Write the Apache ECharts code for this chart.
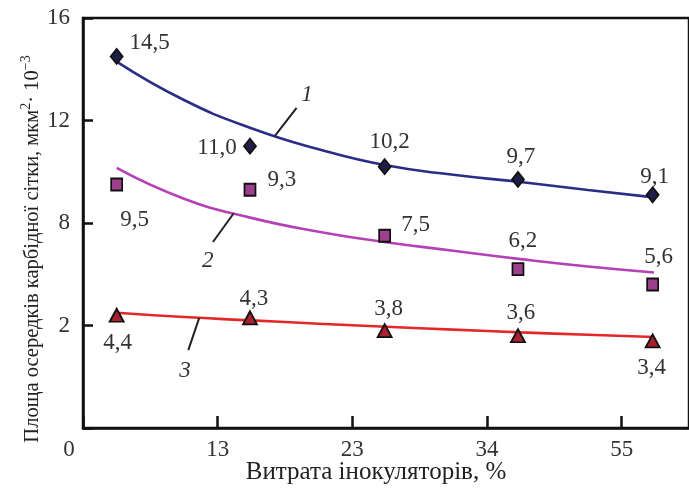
<!DOCTYPE html>
<html>
<head>
<meta charset="utf-8">
<script src="https://cdn.jsdelivr.net/npm/echarts@6/dist/echarts.min.js"></script>
<style>
  html, body { margin: 0; padding: 0; background: #fff; }
  #chart { width: 689px; height: 497px; }
</style>
</head>
<body>
<div id="chart"></div>
<script>
// Axis tick labels (x ticks sit at slots 0..4, y ticks every 4 units)
const xTickLabels = ['0', '13', '23', '34', '55'];
const yTickLabels = ['', '2', '8', '12', '16'];

// Measured points: slot position on the x axis and values for curves 1-3
const pointSlots = [0.25, 1.24, 2.24, 3.23, 4.23];
const series1 = [14.5, 11.0, 10.2, 9.7, 9.1];
const series2 = [9.5, 9.3, 7.5, 6.2, 5.6];
const series3 = [4.4, 4.3, 3.8, 3.6, 3.4];

// Fitted trend curves, sampled along the x axis
const curveSlots = [0.25, 0.75, 1.25, 1.75, 2.25, 2.75, 3.25, 3.75, 4.24];
const fit1 = [14.3, 12.8, 11.7, 10.88, 10.25, 9.88, 9.6, 9.29, 9.0];
const fit2 = [10.15, 8.95, 8.2, 7.66, 7.25, 6.92, 6.59, 6.3, 6.07];
const fit3 = [4.5, 4.33, 4.2, 4.07, 3.95, 3.84, 3.73, 3.64, 3.55];

// Curve numbers and their leader lines (start on the curve, end at the number)
const curveNames = ['1', '2', '3'];
const leaders = [
  [[1.425, 11.4], [1.586, 12.49]],
  [[1.118, 8.37], [0.965, 7.26]],
  [[0.863, 4.3], [0.782, 3.04]]
];
const leaderGaps = [17, 9, 10];

// Label offsets (px) of each value label relative to its marker
const labelOffsets1 = [[33, -13], [-33, 2], [5, -25], [3, -22], [2, -18]];
const labelOffsets2 = [[18, 35], [32, -10], [31, -11], [5, -28], [6, -28]];
const labelOffsets3 = [[1, 28], [4, -19], [4, -22], [3, -23], [-1, 27]];

const FONT = 'Liberation Serif';
const TXT = '#333';

function zip(xs, ys) { return xs.map((x, i) => [x, ys[i]]); }

function pointData(values, offsets) {
  return values.map((v, i) => ({
    value: [pointSlots[i], v],
    label: { offset: offsets[i] }
  }));
}

function fmtComma(p) { return p.value[1].toFixed(1).replace('.', ','); }

function curveSeries(data, color) {
  return {
    type: 'line', data: zip(curveSlots, data),
    smooth: 0.5,
    showSymbol: false, silent: true,
    lineStyle: { color: color, width: 2.6 }, z: 2
  };
}

function markerSeries(values, offsets, symbol, size, fill, idx) {
  return {
    type: 'scatter', data: pointData(values, offsets),
    symbol: symbol, symbolSize: size,
    itemStyle: { color: fill, borderColor: '#111', borderWidth: 1.8, opacity: 1 },
    label: {
      show: true, position: 'inside', formatter: fmtComma,
      fontFamily: FONT, fontSize: 23, color: TXT
    },
    markLine: {
      silent: true, symbol: ['none', 'none'], animation: false,
      lineStyle: { color: '#222', width: 2, type: 'solid' },
      label: {
        show: true, position: 'end', distance: leaderGaps[idx], formatter: curveNames[idx],
        fontFamily: FONT, fontStyle: 'italic', fontSize: 23, color: TXT
      },
      data: [[{ coord: leaders[idx][0] }, { coord: leaders[idx][1] }]]
    },
    z: 5
  };
}

const chart = echarts.init(document.getElementById('chart'), null, { renderer: 'canvas' });

chart.setOption({
  animation: false,
  backgroundColor: '#fff',
  grid: {
    left: 83, width: 616, top: 18, bottom: 69, containLabel: false,
    show: true, borderColor: '#111', borderWidth: 2.5
  },
  xAxis: {
    type: 'value', min: 0, max: 4.5, interval: 1,
    name: 'Витрата інокуляторів, %',
    nameLocation: 'middle', nameGap: 32, nameMoveOverlap: false,
    nameTextStyle: { fontFamily: FONT, fontSize: 25, color: '#222', padding: [0, 20, 0, 0] },
    axisLine: { show: true, onZero: false, lineStyle: { color: '#111', width: 2.5 } },
    axisTick: { show: true, inside: true, length: 12, lineStyle: { color: '#111', width: 2.5 } },
    axisLabel: {
      margin: 10, showMaxLabel: false,
      fontFamily: FONT, fontSize: 23, color: TXT,
      formatter: v => {
        const t = xTickLabels[Math.round(v)] ?? '';
        return Math.round(v) === 0 ? '{o|' + t + '}' : t;
      },
      rich: { o: { fontFamily: FONT, fontSize: 23, color: TXT, padding: [0, 28, 0, 0] } }
    },
    splitLine: { show: false }
  },
  yAxis: {
    type: 'value', min: 0, max: 16, interval: 4,
    name: '{a|Площа осередків карбідної сітки, мкм}{s|2}{a|· 10}{s|−3}',
    nameLocation: 'middle', nameGap: 40, nameRotate: 90, nameMoveOverlap: false,
    nameTextStyle: {
      padding: [0, 52, 0, 0],
      rich: {
        a: { fontFamily: FONT, fontSize: 20.5, color: '#222', lineHeight: 24, verticalAlign: 'bottom' },
        s: { fontFamily: FONT, fontSize: 14, color: '#222', lineHeight: 14, verticalAlign: 'top' }
      }
    },
    axisLine: { show: true, lineStyle: { color: '#111', width: 2.5 } },
    axisTick: { show: true, inside: true, length: 10, lineStyle: { color: '#111', width: 2.5 } },
    axisLabel: {
      margin: 13, fontFamily: FONT, fontSize: 23, color: TXT,
      formatter: v => yTickLabels[Math.round(v / 4)] ?? ''
    },
    splitLine: { show: false }
  },
  series: [
    curveSeries(fit1, '#2a2d85'),
    curveSeries(fit2, '#b441b6'),
    curveSeries(fit3, '#e3282a'),
    markerSeries(series1, labelOffsets1, 'diamond', [12, 15], '#1d1f4a', 0),
    markerSeries(series2, labelOffsets2, 'rect', [11, 12], '#9c3f8c', 1),
    markerSeries(series3, labelOffsets3, 'triangle', [14, 13], '#a8222e', 2)
  ]
});
</script>
</body>
</html>
